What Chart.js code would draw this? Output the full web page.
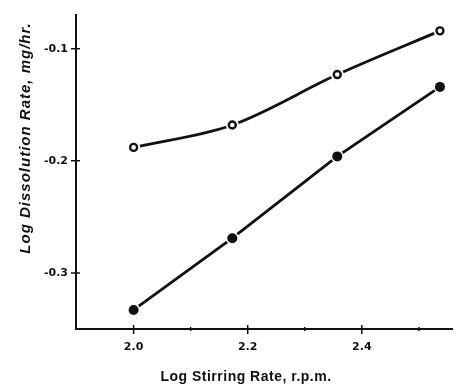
<!DOCTYPE html>
<html>
<head>
<meta charset="utf-8">
<script src="https://cdn.jsdelivr.net/npm/chart.js@4.4.1/dist/chart.umd.min.js"></script>
<style>
  html, body { margin: 0; padding: 0; background: #fff; }
  #wrap { width: 459px; height: 384px; }
</style>
</head>
<body>
<div id="wrap"><canvas id="chart" width="459" height="384"></canvas></div>
<script>
// --- Data ---
const stirLog = [2.0, 2.173, 2.357, 2.537];
const openRate = [-0.188, -0.168, -0.123, -0.084];
const filledRate = [-0.333, -0.269, -0.196, -0.134];

const xMajorTicks = [2.0, 2.2, 2.4];
const xMinorTicks = [2.1, 2.3, 2.5];
const yTicks = [-0.3, -0.2, -0.1];

const xTitle = 'Log Stirring Rate, r.p.m.';
const yTitle = 'Log Dissolution Rate, mg/hr.';

const ink = '#111';

const toPoints = (xs, ys) => xs.map((x, i) => ({ x, y: ys[i] }));

// Tick marks that cross the axis lines, plus the axis titles
const axisDecor = {
  id: 'axisDecor',
  afterDraw(chart) {
    const { ctx, scales: { x, y } } = chart;
    ctx.save();
    ctx.strokeStyle = ink;
    ctx.lineWidth = 1.5;
    ctx.beginPath();
    yTicks.forEach(v => {
      const py = y.getPixelForValue(v);
      ctx.moveTo(x.left - 5, py);
      ctx.lineTo(x.left + 4, py);
    });
    xMajorTicks.forEach(v => {
      const px = x.getPixelForValue(v);
      ctx.moveTo(px, y.bottom - 4);
      ctx.lineTo(px, y.bottom + 5);
    });
    xMinorTicks.forEach(v => {
      const px = x.getPixelForValue(v);
      ctx.moveTo(px, y.bottom - 2);
      ctx.lineTo(px, y.bottom + 2);
    });
    ctx.stroke();

    ctx.fillStyle = ink;
    ctx.textAlign = 'center';
    ctx.textBaseline = 'middle';
    ctx.font = 'bold 14px "Liberation Sans", Arial, sans-serif';
    ctx.letterSpacing = '0.5px';
    ctx.fillText(xTitle, 246, 377);

    ctx.translate(26, 138);
    ctx.rotate(-Math.PI / 2);
    ctx.font = 'italic bold 15px "Liberation Sans", Arial, sans-serif';
    ctx.letterSpacing = '1px';
    ctx.fillText(yTitle, 0, 0);
    ctx.restore();
  }
};

// line, white halo (gap round the markers), marker: drawn bottom to top
const curve = (data, mode) => ({
  data, order: 3, borderColor: ink, borderWidth: 2.8,
  tension: mode ? 0.4 : 0, cubicInterpolationMode: mode || 'default', pointRadius: 0
});
const halo = data => ({
  data, order: 2, showLine: false, pointRadius: 6.5, pointBorderWidth: 0,
  pointBackgroundColor: '#fff', pointBorderColor: '#fff'
});

new Chart(document.getElementById('chart'), {
  type: 'line',
  data: {
    datasets: [
      curve(toPoints(stirLog, openRate), 'monotone'),
      curve(toPoints(stirLog, filledRate)),
      halo(toPoints(stirLog, openRate)),
      halo(toPoints(stirLog, filledRate)),
      {
        data: toPoints(stirLog, openRate), order: 1, showLine: false,
        pointRadius: 3.5, pointBorderWidth: 2.4,
        pointBackgroundColor: '#fff', pointBorderColor: ink
      },
      {
        data: toPoints(stirLog, filledRate), order: 1, showLine: false,
        pointRadius: 5, pointBorderWidth: 0,
        pointBackgroundColor: ink, pointBorderColor: ink
      }
    ]
  },
  options: {
    responsive: false,
    animation: false,
    layout: { padding: { top: 13, right: 0, left: 0, bottom: 0 } },
    plugins: {
      legend: { display: false },
      tooltip: { enabled: false }
    },
    scales: {
      x: {
        type: 'linear',
        min: 1.899,
        max: 2.559,
        afterFit: s => { s.height = 55; },
        afterBuildTicks: s => {
          s.ticks = [...xMajorTicks, ...xMinorTicks].sort((a, b) => a - b).map(v => ({ value: v }));
        },
        grid: { display: false, drawTicks: false },
        border: { display: true, color: ink, width: 2 },
        ticks: {
          padding: 12,
          color: ink,
          font: { family: '"DejaVu Sans", sans-serif', size: 11, weight: 'bold' },
          maxRotation: 0,
          autoSkip: false,
          callback: v => xMajorTicks.some(t => Math.abs(t - v) < 1e-6) ? v.toFixed(1) : ''
        }
      },
      y: {
        min: -0.35,
        max: -0.0695,
        afterFit: s => { s.width = 76; },
        afterBuildTicks: s => { s.ticks = yTicks.map(v => ({ value: v })); },
        grid: { display: false, drawTicks: false },
        border: { display: true, color: ink, width: 2 },
        ticks: {
          padding: 8,
          color: ink,
          font: { family: '"DejaVu Sans", sans-serif', size: 11, weight: 'bold' },
          callback: v => v.toFixed(1)
        }
      }
    }
  },
  plugins: [axisDecor]
});
</script>
</body>
</html>
